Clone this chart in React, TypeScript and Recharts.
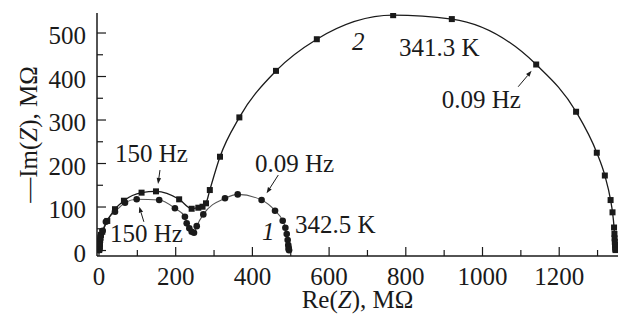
import React from "react";
import { ComposedChart, Scatter, XAxis, YAxis, ReferenceDot, ReferenceLine } from "recharts";

// curve 2 (squares), 341.3 K
const reZ2 = [0.5, 0.8, 1, 1.3, 1.8, 2.5, 3.5, 5, 8.6, 21.6, 41.7, 65, 111, 148.6, 209, 241.6, 259, 270, 279, 289, 315.5, 366, 461.5, 568, 767, 920, 1140, 1244, 1298, 1319, 1334, 1339, 1343, 1344, 1344.5, 1345, 1345.5, 1346, 1346.5, 1347];
const imZ2 = [1, 3, 6, 10, 15, 21, 28, 36, 43, 68, 95, 114.5, 133, 136, 117.7, 96, 98.4, 100.7, 108.5, 139, 215.6, 306, 413, 485.7, 541, 532, 427.6, 319, 224.8, 172.4, 116, 87.8, 52.9, 38, 28, 20, 13, 7, 3, 1];

// curve 1 (circles), 342.5 K
const reZ1 = [0.3, 0.6, 1, 1.5, 2.2, 3, 4.5, 9.6, 18, 41.7, 67.8, 98.3, 157, 198, 224, 228.7, 235.5, 241.7, 247.7, 254.8, 272, 328.5, 361.7, 424, 459, 479, 486, 489.5, 492, 493.5, 494.5, 495, 495.5];
const imZ1 = [1, 4, 8, 13, 19, 26, 34, 45.5, 66, 89, 110, 118, 116, 97, 77.7, 62.5, 51, 43, 41, 56, 83, 120, 129, 116, 91.5, 68.5, 52.4, 38, 24, 12.6, 6, 2.5, 0.5];

const xTicks = [0, 100, 200, 300, 400, 500, 600, 700, 800, 900, 1000, 1100, 1200, 1300];
const yTicks = [0, 50, 100, 150, 200, 250, 300, 350, 400, 450, 500];

const curve2 = reZ2.map((x, i) => ({ x, y: imZ2[i] }));
const curve1 = reZ1.map((x, i) => ({ x, y: imZ1[i] }));

const FONT = '"Liberation Serif", "Times New Roman", serif';
const FS = 25;
const INK = "#1a1a1a";

const XTick = (props: any) => {
  const { x, y, payload } = props;
  const major = payload.value % 200 === 0;
  return (
    <g>
      <line x1={x} y1={y} x2={x} y2={y - (major ? 9 : 6)} stroke={INK} strokeWidth={1.2} />
      {major && (
        <text x={x} y={y + 29} textAnchor="middle" fontSize={FS} fontFamily={FONT} fill={INK}>
          {payload.value}
        </text>
      )}
    </g>
  );
};

const YTick = (props: any) => {
  const { x, y, payload } = props;
  const major = payload.value % 100 === 0;
  return (
    <g>
      <line x1={x} y1={y} x2={x + (major ? 9 : 6)} y2={y} stroke={INK} strokeWidth={1.2} />
      {major && (
        <text x={x - 11} y={y + 11} textAnchor="end" fontSize={FS} fontFamily={FONT} fill={INK}>
          {payload.value}
        </text>
      )}
    </g>
  );
};

const XTitle = (props: any) => {
  const vb = props.viewBox;
  return (
    <text x={vb.x + vb.width / 2} y={vb.y + 52} textAnchor="middle" fontSize={FS} fontFamily={FONT} fill={INK}>
      Re(<tspan fontStyle="italic">Z</tspan>), MΩ
    </text>
  );
};

const YTitle = (props: any) => {
  const vb = props.viewBox;
  const cx = 37;
  const cy = vb.y + vb.height / 2;
  return (
    <text x={cx} y={cy} transform={`rotate(-90, ${cx}, ${cy})`} textAnchor="middle" fontSize={FS} fontFamily={FONT} fill={INK}>
      —Im(<tspan fontStyle="italic">Z</tspan>), MΩ
    </text>
  );
};

const Square = (props: any) => (
  <rect x={props.cx - 3} y={props.cy - 3} width={6} height={6} fill={INK} />
);

const Dot = (props: any) => <circle cx={props.cx} cy={props.cy} r={3.3} fill={INK} />;

const note = (text: string, italic = false) => (props: any) => (
  <text x={props.cx} y={props.cy} fontSize={FS} fontFamily={FONT} fontStyle={italic ? "italic" : "normal"} fill={INK}>
    {text}
  </text>
);

const Arrow = (props: any) => {
  const { x1, y1, x2, y2 } = props;
  const a = Math.atan2(y2 - y1, x2 - x1);
  const len = 6;
  const w = 2.2;
  const bx = x2 - len * Math.cos(a);
  const by = y2 - len * Math.sin(a);
  const px = -Math.sin(a) * w;
  const py = Math.cos(a) * w;
  return (
    <g>
      <line x1={x1} y1={y1} x2={bx} y2={by} stroke={INK} strokeWidth={1} />
      <polygon points={`${x2},${y2} ${bx + px},${by + py} ${bx - px},${by - py}`} fill={INK} />
    </g>
  );
};

export default function App() {
  return (
    <div style={{ position: "absolute", left: 0, top: 0, background: "#fff" }}>
      <ComposedChart width={618} height={323} margin={{ top: 13, right: 0, bottom: 0, left: 0 }}>
        <XAxis
          type="number"
          dataKey="x"
          domain={[-5.2, 1353.3]}
          allowDataOverflow
          ticks={xTicks}
          interval={0}
          tickSize={0}
          tickMargin={0}
          tick={<XTick />}
          tickLine={false}
          axisLine={{ stroke: INK, strokeWidth: 1.5 }}
          height={67}
          label={XTitle}
        />
        <YAxis
          type="number"
          dataKey="y"
          domain={[-12.6, 546]}
          allowDataOverflow
          ticks={yTicks}
          interval={0}
          tickSize={0}
          tickMargin={0}
          tick={<YTick />}
          tickLine={false}
          axisLine={{ stroke: INK, strokeWidth: 1.5 }}
          width={97}
          label={YTitle}
        />
        <Scatter
          data={curve1}
          shape={Dot}
          line={{ stroke: "#555", strokeWidth: 1.1 }}
          lineType="joint"
          lineJointType="monotoneX"
          isAnimationActive={false}
        />
        <Scatter
          data={curve2}
          shape={Square}
          line={{ stroke: INK, strokeWidth: 1.3 }}
          lineType="joint"
          lineJointType="monotoneX"
          isAnimationActive={false}
        />

        <ReferenceDot x={41.7} y={203} r={0} shape={note("150 Hz")} />
        <ReferenceLine segment={[{ x: 159, y: 185 }, { x: 154, y: 153 }]} shape={Arrow} />
        <ReferenceDot x={28.7} y={20} r={0} shape={note("150 Hz")} />
        <ReferenceLine segment={[{ x: 117, y: 66 }, { x: 105, y: 100.7 }]} shape={Arrow} />
        <ReferenceDot x={406.8} y={181.6} r={0} shape={note("0.09 Hz")} />
        <ReferenceLine segment={[{ x: 467.5, y: 173.6 }, { x: 437, y: 131.5 }]} shape={Arrow} />
        <ReferenceDot x={425} y={24} r={0} shape={note("1", true)} />
        <ReferenceDot x={511} y={40} r={0} shape={note("342.5 K")} />
        <ReferenceDot x={660} y={461} r={0} shape={note("2", true)} />
        <ReferenceDot x={782} y={447} r={0} shape={note("341.3 K")} />
        <ReferenceDot x={893.6} y={327} r={0} shape={note("0.09 Hz")} />
        <ReferenceLine segment={[{ x: 1093, y: 376.5 }, { x: 1128, y: 413 }]} shape={Arrow} />
      </ComposedChart>
    </div>
  );
}
